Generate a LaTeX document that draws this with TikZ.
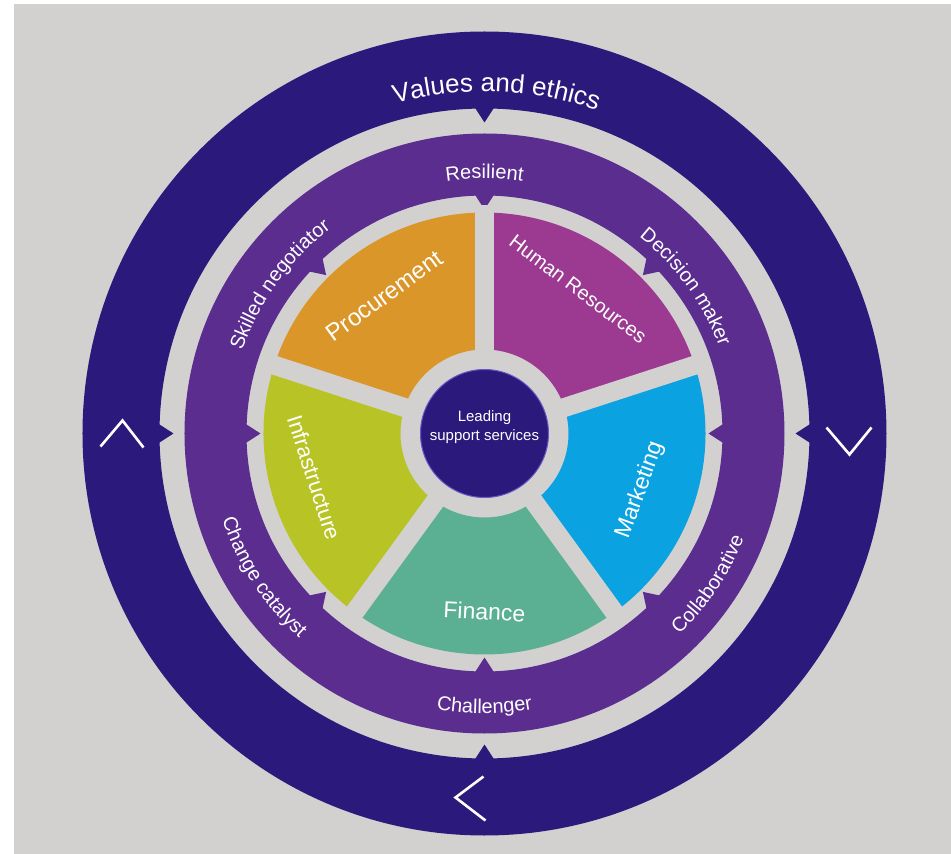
\documentclass[tikz,border=0pt]{standalone}
\usepackage{fontspec}
\setmainfont{Liberation Sans}
\usepackage{tikz}
\usetikzlibrary{decorations.text}
\definecolor{wheelBg}{HTML}{D2D1CF}
\definecolor{wheelNavy}{HTML}{2B1A7B}
\definecolor{wheelPurple}{HTML}{5A2D8F}
\definecolor{wheelEdge}{HTML}{6E54C8}
\definecolor{wheelOrange}{HTML}{DA9629}
\definecolor{wheelMagenta}{HTML}{9C3A92}
\definecolor{wheelBlue}{HTML}{0AA2E0}
\definecolor{wheelTeal}{HTML}{5BAF93}
\definecolor{wheelLime}{HTML}{B8C425}
\newcommand{\valuesfont}{\fontsize{26}{26}\selectfont\color{white}}
\newcommand{\bandfont}{\fontsize{20}{20}\selectfont\color{white}}
% annular sector: start angle, end angle, colour
\newcommand{\wheelsector}[3]{%
    \fill[#3] (#1:84) arc (#1:#2:84) -- (#2:221) arc (#2:#1:221) -- cycle;}
% small pointer on the inner edge of a ring: angle, radius, colour
\newcommand{\ringnotch}[3]{%
    \fill[#3, rotate=#1] (#2+3,-11) -- (#2-14,0) -- (#2+3,11) -- cycle;}

\begin{document}
\begin{tikzpicture}[
    x=1pt, y=1pt,
    seglabel/.style={
        text=white, inner sep=0pt,
        font=\fontsize{23}{23}\selectfont
    },
    hubtext/.style={
        text=white, inner sep=0pt, align=center,
        font=\fontsize{15}{19}\selectfont
    },
    hub/.style={
        circle, fill=wheelNavy, draw=wheelEdge, line width=1pt,
        minimum size=128pt, inner sep=0pt
    },
    gapline/.style={draw=wheelBg, line width=19pt},
    chevron/.style={draw=white, line width=2.6pt},
    bandtext/.style={decorate, decoration={text along path, text align=center}},
]

%% =================================================================
%% Canvas
%% =================================================================
\useasboundingbox (-484.5,-420.5) rectangle (466.5,433.5);
\fill[white] (-484.5,-420.5) rectangle (466.5,433.5);
\fill[wheelBg] (-470.5,-420.5) rectangle (466.5,429.5);

%% =================================================================
%% Outer ring: values and ethics
%% =================================================================
\fill[wheelNavy, even odd rule] (0,0) circle (402) (0,0) circle (325);
\foreach \a in {0,90,180,270}
    \ringnotch{\a}{325}{wheelNavy};

\path[bandtext, decoration={text={|\valuesfont|Values and ethics}}]
    (130:342) arc (130:46:342);

%% direction marks
\draw[chevron] (-384,-13) -- (-362,13) -- (-341,-14);
\draw[chevron] (342,6) -- (365,-21) -- (387,6);
\draw[chevron] (-1,-343) -- (-29,-364) -- (1,-387);

%% =================================================================
%% Middle ring: behaviours
%% =================================================================
\fill[wheelPurple, even odd rule] (0,0) circle (300) (0,0) circle (238);
\foreach \a in {0,45,...,315}
    \ringnotch{\a}{238}{wheelPurple};

\path[bandtext, decoration={text={|\bandfont|Resilient}}]
    (115:255) arc (115:65:255);
\path[bandtext, decoration={text={|\bandfont|Skilled negotiator}}]
    (175:256) arc (175:113:256);
\path[bandtext, decoration={text={|\bandfont|Decision maker}}]
    (67:250) arc (67:5:250);
\path[bandtext, decoration={text={|\bandfont|Change catalyst}}]
    (183:276) arc (183:243:276);
\path[bandtext, decoration={text={|\bandfont|Challenger}}]
    (240:280) arc (240:300:280);
\path[bandtext, decoration={text={|\bandfont|Collaborative}}]
    (-64:280) arc (-64:-4:280);

%% =================================================================
%% Inner wheel: the five services
%% =================================================================
\wheelsector{90}{162}{wheelOrange}
\wheelsector{18}{90}{wheelMagenta}
\wheelsector{-54}{18}{wheelBlue}
\wheelsector{-126}{-54}{wheelTeal}
\wheelsector{162}{234}{wheelLime}

\foreach \a in {90,18,-54,-126,162}
    \draw[gapline] (0,0) -- (\a:228);

\node[seglabel, rotate=36, font=\fontsize{24}{24}\selectfont] (procurement) at (126:170) {Procurement};
\node[seglabel, rotate=-37, font=\fontsize{20}{20}\selectfont] (hr) at (57:172) {Human Resources};
\node[seglabel, rotate=70] (marketing) at (-20:166) {Marketing};
\node[seglabel, rotate=-3] (finance) at (-90:178) {Finance};
\node[seglabel, rotate=-72, font=\fontsize{22}{22}\selectfont] (infra) at (194.5:176) {Infrastructure};

%% hub
\node[hub] (core) at (0,0) {};
\node[hubtext] (hublabel) at ([yshift=6pt]core.center) {Leading\\support services};

\end{tikzpicture}
\end{document}
